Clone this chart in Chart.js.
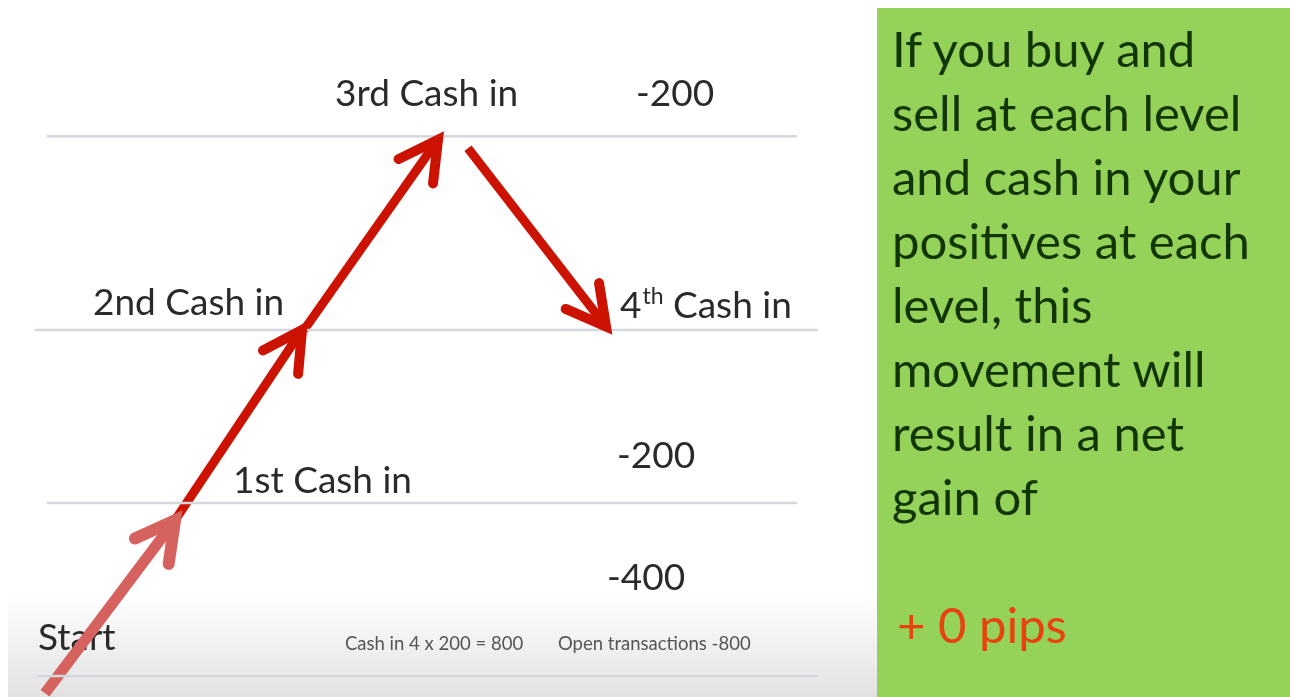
<!DOCTYPE html>
<html>
<head>
<meta charset="utf-8">
<script src="https://cdn.jsdelivr.net/npm/chart.js@4/dist/chart.umd.min.js"></script>
<style>
  html, body { margin: 0; padding: 0; background: #fff; }
  #wrap { position: relative; width: 1290px; height: 697px; overflow: hidden; }
  #slide { position: absolute; left: 0; top: 0; }
  #note {
    position: absolute; left: 877px; top: 8px; width: 413px; height: 689px;
    background: #95d259; font-family: Lato, sans-serif; font-size: 49px;
    line-height: 64px; color: #123506; padding-top: 8px; box-sizing: border-box;
  }
  #note div { padding-left: 15px; white-space: nowrap; height: 64px; }
  #note .gain { color: #e8420e; padding-left: 20px; }
</style>
</head>
<body>
<div id="wrap">
  <canvas id="slide" width="1290" height="697"></canvas>
  <div id="note"></div>
</div>
<script>
'use strict';

// price levels (in level units, start line = 0)
const levelNames = ['Start', '1st Cash in', '2nd Cash in', '3rd Cash in'];
const levelValues = [0, 1, 2, 3.12];
const levelFrom = [37, 47, 35, 47];
const levelTo = [818, 797, 818, 797];

// the price path, split into the four moves
const moveX = [[45, 175], [175, 302], [304, 438], [468, 606]];
const moveY = [[-0.1, 0.9], [0.9, 2.0], [2.0, 3.1], [3.05, 2.02]];

// open-position notes next to the levels
const openNotes = ['-200', '-200', '-400'];
const footNotes = ['Cash in 4 x 200 = 800', 'Open transactions -800'];

const noteLines = ['If you buy and', 'sell at each level', 'and cash in your',
  'positives at each', 'level, this', 'movement will', 'result in a net', 'gain of', ''];
const gainText = '+ 0 pips';

let note = document.getElementById('note');
noteLines.forEach((t) => {
  let d = document.createElement('div');
  d.textContent = t;
  note.appendChild(d);
});
let g = document.createElement('div');
g.className = 'gain';
g.textContent = gainText;
note.appendChild(g);

let datasets = [];
levelValues.forEach((v, i) => {
  datasets.push({
    data: [{x: levelFrom[i], y: v}, {x: levelTo[i], y: v}],
    showLine: true, borderColor: '#d2d8dd', borderWidth: 2.5, pointRadius: 0,
  });
});
moveX.forEach((xs, i) => {
  datasets.push({
    data: xs.map((x, j) => ({x: x, y: moveY[i][j]})),
    showLine: true, arrow: true, pointRadius: 0,
    borderWidth: i === 0 ? 11 : 9,
    borderCapStyle: 'butt',
    borderColor: i === 0 ? '#d5625f' : '#cc1200',
  });
});

// where the words sit: x in slide units, y in level units
const labelLayout = [
  {text: levelNames[3], x: 335, y: 3.12, dy: -30, size: 37},
  {text: openNotes[0], x: 636, y: 3.12, dy: -30, size: 37},
  {text: levelNames[2], x: 93, y: 2, dy: -15, size: 37},
  {text: levelNames[1], x: 233, y: 1, dy: -10, size: 37},
  {text: openNotes[1], x: 617, y: 1, dy: -35, size: 37},
  {text: openNotes[2], x: 607, y: 0, dy: -86, size: 37},
  {text: levelNames[0], x: 38, y: 0, dy: -26, size: 37},
  {text: footNotes[0], x: 345, y: 0, dy: -26, size: 18.5, color: '#555'},
  {text: footNotes[1], x: 558, y: 0, dy: -26, size: 18.5, color: '#555'},
];

const backdrop = {
  id: 'backdrop',
  beforeDraw(chart) {
    let ctx = chart.ctx;
    ctx.save();
    ctx.fillStyle = '#fff';
    ctx.fillRect(0, 0, chart.width, chart.height);
    let grad = ctx.createLinearGradient(0, 595, 0, chart.height);
    grad.addColorStop(0, 'rgba(255,255,255,1)');
    grad.addColorStop(1, '#e2e2e2');
    ctx.fillStyle = grad;
    ctx.fillRect(8, 595, 869, chart.height - 595);
    ctx.restore();
  },
};

const words = {
  id: 'words',
  beforeDatasetsDraw(chart) {
    let ctx = chart.ctx;
    let xs = chart.scales.x, ys = chart.scales.y;
    ctx.save();
    ctx.textBaseline = 'alphabetic';
    labelLayout.forEach((l) => {
      ctx.font = l.size + 'px Lato';
      ctx.fillStyle = l.color || '#2a2a2a';
      ctx.fillText(l.text, xs.getPixelForValue(l.x), ys.getPixelForValue(l.y) + l.dy);
    });
    // 4th cash in, with the raised "th"
    ctx.fillStyle = '#2a2a2a';
    let px = xs.getPixelForValue(620), py = ys.getPixelForValue(2) - 12;
    ctx.font = '37px Lato';
    ctx.fillText('4', px, py);
    px += ctx.measureText('4').width + 1;
    ctx.font = '23px Lato';
    ctx.fillText('th', px, py - 14);
    px += ctx.measureText('th').width;
    ctx.font = '37px Lato';
    ctx.fillText(' Cash in', px, py);
    ctx.restore();
  },
};

const heads = {
  id: 'heads',
  afterDatasetsDraw(chart) {
    let ctx = chart.ctx;
    chart.data.datasets.forEach((ds, i) => {
      if (!ds.arrow) return;
      let pts = chart.getDatasetMeta(i).data;
      let a = pts[pts.length - 2], b = pts[pts.length - 1];
      let ang = Math.atan2(a.y - b.y, a.x - b.x);
      let len = 44, spread = 0.5;
      ctx.save();
      ctx.strokeStyle = ds.borderColor;
      ctx.lineWidth = ds.borderWidth + 1;
      ctx.lineCap = 'round';
      ctx.lineJoin = 'miter';
      ctx.beginPath();
      ctx.moveTo(b.x + len * Math.cos(ang + spread), b.y + len * Math.sin(ang + spread));
      ctx.lineTo(b.x, b.y);
      ctx.lineTo(b.x + len * Math.cos(ang - spread), b.y + len * Math.sin(ang - spread));
      ctx.stroke();
      ctx.restore();
    });
  },
};

let ctx = document.getElementById('slide');
let myChart = new Chart(ctx, {
  type: 'scatter',
  data: {datasets: datasets},
  options: {
    responsive: false,
    animation: false,
    devicePixelRatio: 1,
    layout: {padding: 0},
    scales: {
      x: {type: 'linear', min: 0, max: 1290, display: false},
      y: {type: 'linear', min: -21 / 173, max: 676 / 173, display: false},
    },
    plugins: {legend: {display: false}, tooltip: {enabled: false}},
  },
  plugins: [backdrop, words, heads],
});
</script>
</body>
</html>
